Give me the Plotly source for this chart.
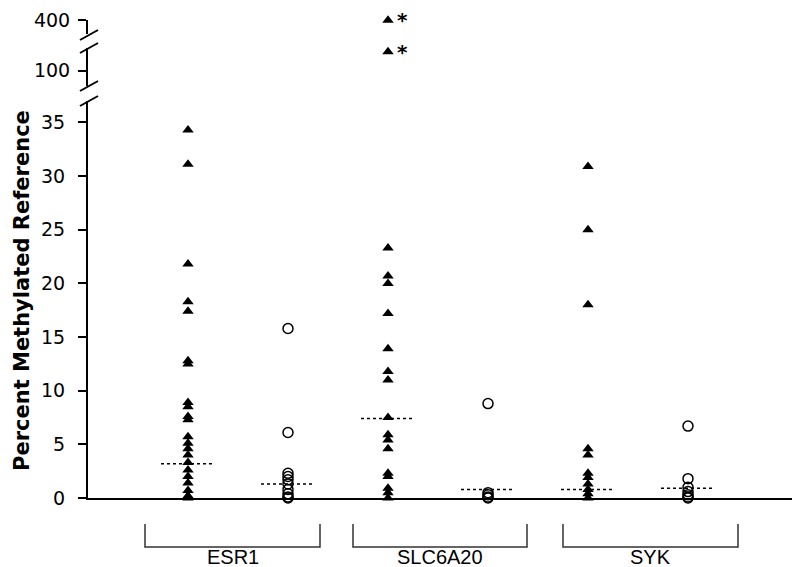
import plotly.graph_objects as go

# values (percent methylated reference)
esr1_tri = [34.3, 31.1, 21.8, 18.3, 17.4, 12.8, 12.5, 8.9, 8.5, 7.6, 7.3, 5.7, 5.1, 4.6, 4.0, 3.3, 2.6, 2.0, 1.4, 0.7, 0.2, 0.0]
esr1_circ = [15.8, 6.1, 2.3, 2.0, 1.7, 1.3, 0.8, 0.4, 0.1, 0.0]
slc_tri = [23.3, 20.7, 20.0, 17.2, 13.9, 11.8, 11.0, 7.5, 5.9, 5.4, 4.6, 2.3, 2.0, 0.9, 0.5, 0.0]
slc_tri_mid = [150]   # shown on the middle (100) segment
slc_tri_top = [400]   # shown on the top (400) segment
slc_circ = [8.8, 0.5, 0.3, 0.1, 0.0]
syk_tri = [30.9, 25.0, 18.0, 4.6, 4.0, 2.3, 1.9, 1.3, 0.8, 0.4, 0.0]
syk_circ = [6.7, 1.8, 1.0, 0.6, 0.3, 0.1, 0.0]
medians = [3.2, 1.3, 7.4, 0.8, 0.8, 0.9]
genes = ["ESR1", "SLC6A20", "SYK"]
low_ticks = [0, 5, 10, 15, 20, 25, 30, 35]

# the page body keeps its default 8px margin, so the figure is 8px smaller
OFF = 8
W, H = 800 - OFF, 567 - OFF
X0, X1 = 88, 793      # plot area, in window pixels
Y0, Y1 = 10, 498
L, R = X0 - OFF, W - (X1 - OFF)
T, B = Y0 - OFF, H - (Y1 - OFF)


def py(p):
    # window pixel row -> paper y
    return (Y1 - p) / (Y1 - Y0)


def px(p):
    return (p - X0) / (X1 - X0)


fig = go.Figure()

tri = dict(symbol="triangle-up", size=10, color="black")
circ = dict(symbol="circle-open", size=10, color="black", line=dict(width=1.5))
cols = [(0, esr1_tri, tri), (1, esr1_circ, circ), (2, slc_tri, tri),
        (3, slc_circ, circ), (4, syk_tri, tri), (5, syk_circ, circ)]
for xpos, vals, mk in cols:
    fig.add_trace(go.Scatter(x=[xpos] * len(vals), y=vals, mode="markers",
                             marker=mk, cliponaxis=False, showlegend=False))
fig.add_trace(go.Scatter(x=[2] * len(slc_tri_mid), y=slc_tri_mid, yaxis="y2", mode="markers",
                         marker=tri, cliponaxis=False, showlegend=False))
fig.add_trace(go.Scatter(x=[2] * len(slc_tri_top), y=slc_tri_top, yaxis="y3", mode="markers",
                         marker=tri, cliponaxis=False, showlegend=False))

# median lines
for i, m in enumerate(medians):
    fig.add_trace(go.Scatter(x=[i - 0.27, i + 0.27], y=[m, m], mode="lines",
                             line=dict(color="black", width=1.5, dash="dot"),
                             cliponaxis=False, showlegend=False))

axfont = dict(family="DejaVu Sans", size=19, color="black")
yax = dict(showline=True, linewidth=2, linecolor="black", ticks="outside",
           ticklen=8, tickwidth=2, tickcolor="black", showgrid=False,
           zeroline=False, tickfont=axfont, anchor="x", automargin=False)

shapes = []
# axis break slashes
for yc in (35, 48, 86, 101):
    shapes.append(dict(type="line", xref="paper", yref="paper",
                       x0=px(80), x1=px(98), y0=py(yc + 5), y1=py(yc - 5),
                       line=dict(color="black", width=2)))
# end tick on the x axis
shapes.append(dict(type="line", xref="paper", yref="paper", x0=1, x1=1,
                   y0=0, y1=py(505), line=dict(color="black", width=2)))
# gene brackets
brackets = [(-0.43, 1.32), (1.65, 3.39), (3.75, 5.5)]
annotations = []
for (a, b), g in zip(brackets, genes):
    shapes.append(dict(type="path", xref="x", yref="paper",
                       path=f"M {a},{py(524)} L {a},{py(547)} L {b},{py(547)} L {b},{py(524)}",
                       line=dict(color="#333333", width=1.5)))
    annotations.append(dict(x=(a + b) / 2, y=py(557), xref="x", yref="paper",
                            text=g, showarrow=False, xanchor="center", yanchor="middle",
                            font=dict(family="Liberation Sans", size=20, color="black")))

# asterisks beside the off-scale points
for v, ax in ((slc_tri_mid[0], "y2"), (slc_tri_top[0], "y3")):
    annotations.append(dict(x=2, y=v, xref="x", yref=ax, text="<b>*</b>", showarrow=False,
                            xshift=14, yshift=0, xanchor="center", yanchor="middle",
                            font=dict(family="DejaVu Sans", size=20, color="black")))

annotations.append(dict(x=px(22), y=py(291), xref="paper", yref="paper",
                        text="<b>Percent Methylated Reference</b>", textangle=-90,
                        showarrow=False, xanchor="center", yanchor="middle",
                        font=dict(family="DejaVu Sans", size=21, color="black")))

fig.update_layout(
    width=W, height=H,
    margin=dict(l=L, r=R, t=T, b=B, autoexpand=False),
    plot_bgcolor="white", paper_bgcolor="white",
    xaxis=dict(range=[-1, 6.05], showline=True, linewidth=2, linecolor="black",
               showticklabels=False, ticks="", showgrid=False, zeroline=False,
               anchor="y", automargin=False),
    yaxis={**yax, "domain": [0, py(101)], "range": [0, 37], "tickvals": low_ticks,
           "ticklabelstandoff": 9},
    yaxis2={**yax, "domain": [py(86), py(48)], "range": [60, 160], "tickvals": [100],
            "ticklabelstandoff": 4},
    yaxis3={**yax, "domain": [py(34), py(20)], "range": [374, 400.5], "tickvals": [400],
            "ticklabelstandoff": 4},
    shapes=shapes,
    annotations=annotations,
)

fig.write_html("out.html")
